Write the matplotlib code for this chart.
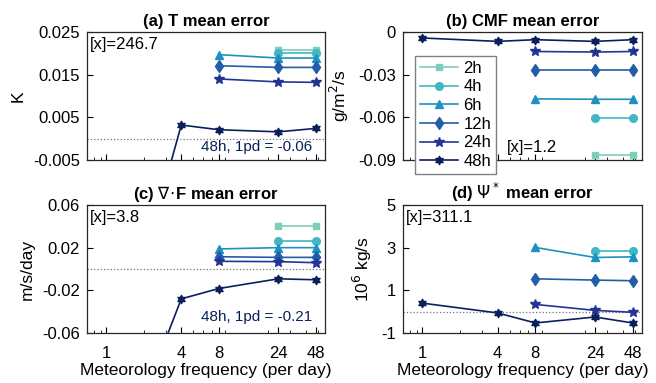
import numpy as np
import matplotlib
matplotlib.use("Agg")
import matplotlib.pyplot as plt
from matplotlib.path import Path

plt.rcParams['font.family'] = ['Liberation Sans', 'DejaVu Sans']
plt.rcParams['mathtext.fontset'] = 'dejavusans'

freq = [1, 4, 8, 24, 48]
nan = np.nan
labels = ["2h", "4h", "6h", "12h", "24h", "48h"]
colors = ["#7fcdbb", "#41b6c4", "#1d91c0", "#225ea8", "#253494", "#0b1f5c"]

# mean errors per panel, rows = 2h..48h, columns = freq
T_err = [
    [nan, nan, nan, 0.0208, 0.0208],
    [nan, nan, nan, 0.0200, 0.0200],
    [nan, nan, 0.0197, 0.0189, 0.0189],
    [nan, nan, 0.0171, 0.0167, 0.0167],
    [nan, nan, 0.0140, 0.0133, 0.0132],
    [-0.06, 0.0032, 0.0021, 0.0016, 0.0024],
]
CMF_err = [
    [nan, nan, nan, -0.0867, -0.0867],
    [nan, nan, nan, -0.0606, -0.0606],
    [nan, nan, -0.0470, -0.0473, -0.0473],
    [nan, nan, -0.0270, -0.0270, -0.0270],
    [nan, nan, -0.0137, -0.0141, -0.0137],
    [-0.0042, -0.0066, -0.0054, -0.0066, -0.0054],
]
divF_err = [
    [nan, nan, nan, 0.0406, 0.0406],
    [nan, nan, nan, 0.0266, 0.0266],
    [nan, nan, 0.0188, 0.0200, 0.0200],
    [nan, nan, 0.0115, 0.0109, 0.0109],
    [nan, nan, 0.0072, 0.0069, 0.0059],
    [-0.21, -0.028, -0.0183, -0.0092, -0.0101],
]
Psi_err = [
    [nan, nan, nan, nan, nan],
    [nan, nan, nan, 2.85, 2.85],
    [nan, nan, 3.01, 2.54, 2.57],
    [nan, nan, 1.54, 1.48, 1.45],
    [nan, nan, 0.34, 0.06, -0.03],
    [0.40, -0.06, -0.53, -0.25, -0.53],
]

titles = ["(a) T mean error", "(b) CMF mean error",
          r"(c) $\nabla\!\cdot\!$F mean error", r"(d) $\Psi^*$ mean error"]
ylabels = ["K", r"g/m$^2$/s", "m/s/day", r"10$^6$ kg/s"]
yticks = [[-0.005, 0.005, 0.015, 0.025], [-0.09, -0.06, -0.03, 0],
          [-0.06, -0.02, 0.02, 0.06], [-1, 1, 3, 5]]
yticklabels = [["-0.005", "0.005", "0.015", "0.025"], ["-0.09", "-0.06", "-0.03", "0"],
               ["-0.06", "-0.02", "0.02", "0.06"], ["-1", "1", "3", "5"]]
scale_text = ["[x]=246.7", "[x]=1.2", "[x]=3.8", "[x]=311.1"]
note_text = ["48h, 1pd = -0.06", None, "48h, 1pd = -0.21", None]

hexagram = Path.unit_regular_star(6, 0.55)
markers = ["s", "o", "^", "d", "*", hexagram]
msizes = [4.5, 5.5, 5.5, 6, 7.5, 6]

fig = plt.figure(figsize=(6.56, 3.83), dpi=100)
W, H = 656, 383
boxes = [(87, 32, 238, 128), (403, 32, 239, 128),
         (87, 205, 238, 128), (403, 205, 239, 128)]
all_data = [T_err, CMF_err, divF_err, Psi_err]

for i in range(4):
    l, t, w, h = boxes[i]
    ax = fig.add_axes([l / W, (H - t - h) / H, w / W, h / H])
    data = all_data[i]
    for k in range(6):
        ax.plot(freq, data[k], color=colors[k], marker=markers[k], ms=msizes[k],
                mec=colors[k], mfc=colors[k], lw=1.2, label=labels[k])
    ax.axhline(0, color="0.45", ls=":", lw=0.9, zorder=0)
    ax.set_xscale("log")
    ax.set_xlim(0.7, 57)
    ax.set_ylim(yticks[i][0], yticks[i][-1])
    ax.set_yticks(yticks[i])
    ax.set_yticklabels(yticklabels[i])
    ax.set_xticks(freq)
    ax.tick_params(which="both", direction="in", labelsize=12, top=False, right=False)
    ax.tick_params(which="major", length=4)
    ax.tick_params(which="minor", length=2.5)
    ax.tick_params(axis="x", pad=9)
    ax.tick_params(axis="y", pad=5)
    if i < 2:
        ax.set_xticklabels([])
    else:
        ax.set_xticklabels([str(f) for f in freq])
        ax.set_xlabel("Meteorology frequency (per day)", fontsize=12.5, labelpad=2)
    ax.set_ylabel(ylabels[i], fontsize=12.5, labelpad=5)
    ax.set_title(titles[i], fontsize=12, fontweight="bold", pad=4)
    for sp in ax.spines.values():
        sp.set_color("0.15")
        sp.set_linewidth(0.9)
    if i == 1:
        ax.text(0.435, 0.10, scale_text[i], transform=ax.transAxes, fontsize=12, va="center")
        ax.legend(loc="upper left", bbox_to_anchor=(0.05, 0.815), fontsize=12,
                  handlelength=2.3, labelspacing=0.22, borderpad=0.3, borderaxespad=0,
                  handletextpad=0.3, fancybox=False, framealpha=1, edgecolor="0.5")
    else:
        ax.text(0.013, 0.905, scale_text[i], transform=ax.transAxes, fontsize=12, va="center")
    if note_text[i]:
        ax.text(0.945, 0.10 if i == 0 else 0.127, note_text[i], transform=ax.transAxes,
                fontsize=11, va="center", ha="right", color=colors[5])

fig.savefig("out.png", dpi=100)
